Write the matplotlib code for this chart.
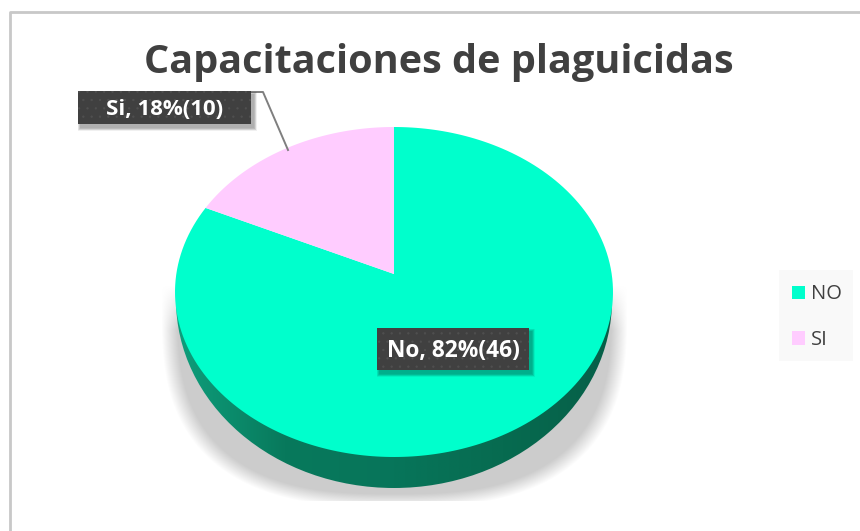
from matplotlib import pyplot as plt
from matplotlib.patches import Ellipse, Rectangle, Polygon
from matplotlib.colors import LinearSegmentedColormap
import numpy as np

labels = ["No", "Si"]
legend_labels = ["NO", "SI"]
values = [46, 10]
shown = ["No, 82%(46)", "Si, 18%(10)"]
colors = ["#00FFCC", "#FFCCFF"]

plt.rcParams['font.family'] = ['Open Sans', 'DejaVu Sans']
plt.rcParams['hatch.linewidth'] = 0.4

W, H = 860, 531
fig = plt.figure(figsize=(W / 100, H / 100), dpi=100)
ax = fig.add_axes([0, 0, 1, 1])

# pie geometry, apex sits above the centre of the outline because of the perspective
cx, apex_y, outline_y, rx, ry = 394, 274, 292, 219, 165

# chart frame, only the top and left edges show
ax.plot([9.5, 9.5, 860], [531, 12, 12], color="#c8c8c8", lw=2, zorder=1)

# soft shadow under the pie
yy, xx = np.mgrid[0:H, 0:W]
dist = (np.abs((xx - 394) / 233.0) ** 2.7 + np.abs((yy - 312) / 195.0) ** 2.7) ** (1 / 2.7)
shadow = np.clip((1.0 - dist) / 0.07, 0, 1) * np.clip((yy - 285) / 45.0, 0, 1) * (yy < 501)
shadow_rgba = np.zeros((H, W, 4))
shadow_rgba[..., :3] = 0.80
shadow_rgba[..., 3] = shadow
ax.imshow(shadow_rgba, extent=(0, W, H, 0), zorder=1.5, aspect="auto")

# side wall of the pie
side_cmap = LinearSegmentedColormap.from_list("side", ["#0E9F7C", "#08795C", "#07755A", "#076B50", "#065F48"])
grad = np.linspace(0, 1, 256).reshape(1, -1)
side = ax.imshow(grad, cmap=side_cmap, extent=(175, 613, 488, 280), zorder=2, aspect="auto")
side_clip = Ellipse((394, 300), 2 * 218, 2 * 188, transform=ax.transData)
side.set_clip_path(side_clip)

# top of the pie, clockwise from 12 o'clock, angles come from the pie itself
wedges = ax.pie(values, colors=colors, startangle=90, counterclock=False, radius=1, frame=False)[0]
for w, c in zip(wedges, colors):
    w.set_visible(False)
    theta = np.radians(np.linspace(w.theta1, w.theta2, 200))
    phi = np.pi / 2 - theta
    phi = phi - np.radians(6.3) * np.sin(2 * phi)
    arc_x = cx + rx * np.sin(phi)
    arc_y = outline_y - ry * np.cos(phi)
    pts = np.column_stack([np.r_[cx, arc_x], np.r_[apex_y, arc_y]])
    ax.add_patch(Polygon(pts, closed=True, fc=c, ec="none", zorder=3))

ax.set_xlim(0, W)
ax.set_ylim(H, 0)
ax.set_aspect("auto")
ax.axis("off")

# leader line
ax.plot([251, 263, 288], [92, 92, 150], color="#7f7f7f", lw=1.4, zorder=4)


def label_box(x0, y0, x1, y1, text, size):
    # blurred drop shadow first, then the dark box with its dot pattern
    for i in range(6):
        ax.add_patch(Rectangle((x0 + 2 - i * 0.5, y0 + 3 - i * 0.5), x1 - x0 + i + 1, y1 - y0 + i + 1,
                               fc="black", alpha=0.06, ec="none", zorder=5))
    ax.add_patch(Rectangle((x0, y0), x1 - x0, y1 - y0, fc="#404040", ec="#505050", lw=0,
                           hatch="..", zorder=5.5))
    ax.text((x0 + x1) / 2, (y0 + y1) / 2 + 2, text, color="white", fontsize=size, fontweight="bold",
            ha="center", va="center", zorder=6)


label_box(78, 91, 251, 124, shown[1], 16)
label_box(377, 328, 529, 370, shown[0], 16.4)

# title
ax.text(439, 63, "Capacitaciones de plaguicidas", color="#404040", fontsize=28.5, fontweight="bold",
        ha="center", va="center")

# legend
ax.add_patch(Rectangle((779, 270), 74, 91, fc="#f9f9f9", ec="none"))
ax.add_patch(Rectangle((792, 286), 13, 13, fc=colors[0], ec="none"))
ax.text(811, 294, legend_labels[0], color="#404040", fontsize=14.5, va="center")
ax.add_patch(Rectangle((792, 331), 13, 14, fc=colors[1], ec="none"))
ax.text(811, 340, legend_labels[1], color="#404040", fontsize=14.5, va="center")

fig.savefig("out.png", dpi=100)
